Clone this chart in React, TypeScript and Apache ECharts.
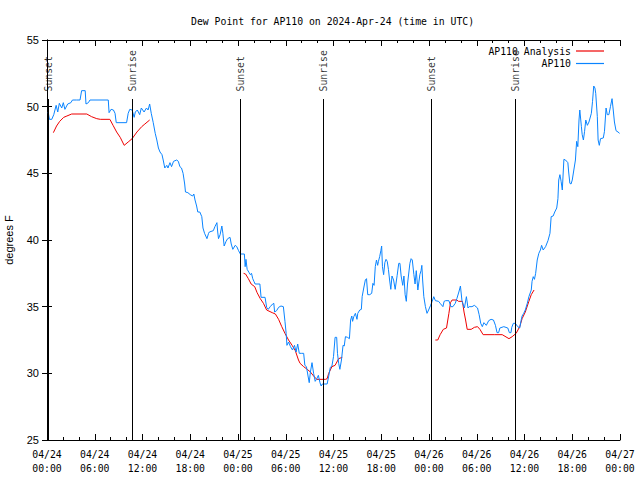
import React, { useEffect, useRef } from "react";
import * as echarts from "echarts";

// AP110 observed dew point: [hours since 2024-04-24 00:00 UTC, °F]
const ap110: [number, number][] = [
  [0.15, 49.6], [0.3, 49.05], [0.6, 49.05], [0.85, 49.4], [1.15, 50.1], [1.35, 49.6], [1.55, 50.25],
  [1.85, 49.9], [2.05, 50.3], [2.25, 49.8], [2.6, 50.2], [3.0, 50.3], [3.2, 50.5], [3.7, 50.5],
  [4.15, 50.5], [4.35, 51.2], [4.8, 51.2], [4.9, 50.2], [5.2, 50.3], [5.4, 50.5], [7.7, 50.5],
  [7.8, 49.55], [8.05, 49.8], [8.35, 49.75], [8.55, 49.5], [8.7, 48.8], [10.0, 48.8], [10.2, 49.5],
  [10.4, 49.8], [10.7, 49.75], [10.95, 49.2], [11.1, 49.6], [11.35, 49.75], [11.65, 49.4],
  [11.85, 49.9], [12.2, 49.6], [12.5, 49.9], [12.7, 49.75], [12.9, 50.2], [13.1, 49.5],
  [13.35, 48.8], [13.6, 48.0], [13.8, 47.5], [14.0, 46.9], [14.2, 46.6], [14.45, 46.4], [14.6, 46.0],
  [14.8, 45.4], [15.05, 45.6], [15.2, 45.4], [15.45, 45.8], [15.65, 45.5], [15.9, 45.9], [16.3, 46.0],
  [16.5, 45.9], [16.7, 45.5], [16.9, 45.4], [17.1, 45.0], [17.3, 44.2], [17.4, 43.6], [17.7, 43.55],
  [18.0, 43.4], [18.3, 43.3], [18.45, 43.45], [18.6, 43.0], [18.8, 42.55], [18.95, 42.1], [19.2, 42.1],
  [19.45, 41.75], [19.6, 40.9], [19.8, 40.5], [20.1, 40.1], [20.3, 40.5], [20.4, 40.6], [20.9, 40.7],
  [21.1, 41.0], [21.35, 41.3], [21.45, 40.6], [21.55, 40.1], [21.75, 40.4], [21.97, 41.05], [22.1, 40.5],
  [22.26, 39.55], [22.5, 39.9], [22.7, 40.1], [23.0, 40.2], [23.15, 39.7], [23.35, 39.3], [23.65, 39.6],
  [23.85, 39.5], [24.07, 39.2], [24.3, 38.95], [24.8, 38.95], [24.9, 38.0], [25.0, 38.55], [25.15, 37.8],
  [25.4, 37.55], [25.55, 37.4], [25.7, 37.5], [25.85, 37.1], [26.0, 36.9], [26.15, 36.7], [26.75, 36.7],
  [26.9, 35.7], [27.4, 35.7], [27.6, 34.95], [27.8, 34.8], [28.05, 35.0], [28.35, 35.2], [28.5, 35.25],
  [28.6, 34.6], [28.85, 34.7], [29.1, 34.95], [29.4, 35.05], [29.7, 35.0], [29.9, 33.9], [30.05, 33.0],
  [30.15, 32.1], [30.35, 32.35], [30.6, 32.0], [30.85, 31.75], [31.1, 32.1], [31.3, 31.6], [31.5, 32.2],
  [31.7, 31.5], [31.95, 31.5], [32.25, 31.5], [32.4, 30.6], [32.6, 30.5], [32.8, 29.8], [32.95, 29.3],
  [33.1, 30.1], [33.3, 30.8], [33.5, 30.0], [33.7, 29.4], [33.9, 29.6], [34.1, 29.85], [34.3, 29.3],
  [34.45, 29.05], [34.6, 29.2], [35.2, 29.2], [35.4, 29.8], [35.6, 30.45], [35.8, 30.55], [36.0, 31.25],
  [36.2, 32.7], [36.4, 32.7], [36.5, 31.5], [36.65, 30.75], [36.8, 30.3], [37.0, 31.0], [37.2, 32.1],
  [37.35, 32.05], [37.5, 32.75], [37.75, 32.7], [38.0, 32.6], [38.15, 34.0], [38.3, 34.3], [38.4, 33.9],
  [38.55, 34.25], [38.75, 34.5], [38.95, 34.05], [39.05, 34.5], [39.3, 34.75], [39.5, 34.8],
  [39.6, 35.75], [39.8, 36.4], [40.0, 37.0], [40.15, 37.1], [40.3, 35.9], [40.55, 35.9], [40.8, 36.0],
  [40.95, 36.75], [41.1, 36.6], [41.25, 38.0], [41.4, 38.5], [41.55, 38.1], [41.65, 38.4], [41.8, 38.75],
  [41.95, 39.2], [42.05, 39.55], [42.15, 38.0], [42.3, 37.4], [42.45, 38.3], [42.6, 38.55], [42.75, 38.4],
  [42.9, 37.8], [43.05, 37.0], [43.2, 36.3], [43.35, 37.3], [43.55, 37.0], [43.75, 36.3], [44.0, 37.35],
  [44.2, 38.25], [44.35, 38.25], [44.5, 37.3], [44.7, 36.6], [44.85, 37.3], [45.0, 35.9], [45.15, 35.4],
  [45.3, 36.7], [45.6, 38.25], [45.75, 38.6], [45.9, 38.5], [46.1, 37.4], [46.25, 36.7], [46.4, 37.7],
  [46.6, 36.25], [46.85, 37.4], [47.0, 37.7], [47.1, 38.1], [47.2, 37.0], [47.35, 35.75], [47.55, 35.0],
  [47.75, 34.5], [47.95, 34.75], [48.2, 35.1], [48.4, 35.4], [48.6, 35.75], [48.8, 35.45], [49.2, 35.4],
  [49.4, 35.25], [49.75, 35.0], [49.9, 35.4], [50.1, 35.45], [50.5, 35.45], [50.75, 35.0], [51.0, 35.0],
  [51.3, 35.25], [51.5, 35.6], [51.75, 36.1], [51.95, 36.55], [52.15, 35.4], [52.45, 34.9], [52.7, 35.75],
  [52.9, 34.9], [53.05, 35.0], [53.4, 35.0], [53.7, 35.1], [54.1, 34.9], [54.3, 34.4], [54.5, 33.75],
  [54.7, 33.5], [54.9, 33.8], [55.2, 33.6], [55.5, 33.95], [55.8, 34.05], [56.1, 34.0], [56.35, 33.6],
  [56.55, 33.05], [56.75, 33.05], [56.9, 33.4], [57.4, 33.5], [57.9, 33.4], [58.1, 33.05], [58.3, 33.05],
  [58.4, 33.45], [58.6, 33.75], [58.85, 33.75], [59.15, 33.5], [59.4, 33.4], [59.6, 34.05], [59.7, 34.3],
  [59.9, 34.5], [60.1, 34.75], [60.35, 35.25], [60.55, 35.75], [60.85, 36.25], [60.95, 36.9],
  [61.1, 37.25], [61.25, 37.05], [61.4, 37.5], [61.6, 38.5], [61.8, 39.0], [62.0, 39.25], [62.15, 39.6],
  [62.35, 39.25], [62.65, 39.5], [62.95, 39.95], [63.2, 40.5], [63.35, 41.75], [63.6, 41.8], [63.8, 42.1],
  [64.05, 42.4], [64.2, 43.1], [64.3, 44.5], [64.45, 44.9], [64.6, 44.4], [64.75, 43.75], [64.95, 46.05],
  [65.15, 46.0], [65.45, 45.8], [65.55, 45.1], [65.7, 44.25], [65.85, 44.2], [66.0, 44.5], [66.2, 45.25],
  [66.4, 46.0], [66.55, 47.4], [66.7, 47.0], [66.85, 49.0], [66.95, 49.75], [67.15, 48.5], [67.25, 47.9],
  [67.4, 47.5], [67.55, 48.15], [67.7, 49.0], [67.9, 48.6], [68.1, 48.85], [68.4, 49.5], [68.55, 50.4],
  [68.7, 51.55], [68.85, 51.4], [68.95, 51.0], [69.15, 49.25], [69.25, 47.5], [69.4, 47.1], [69.55, 47.6],
  [69.9, 47.65], [70.05, 48.15], [70.25, 49.9], [70.4, 49.4], [70.6, 49.4], [70.8, 50.0], [71.0, 50.6],
  [71.15, 49.75], [71.3, 48.85], [71.5, 48.2], [71.75, 48.1], [71.95, 48.0],
];

// AP110 Analysis, three separate runs
const analysisDay1: [number, number][] = [
  [0.8, 48.05], [1.2, 48.55], [1.6, 48.9], [2.1, 49.2], [2.5, 49.3], [3.1, 49.45], [5.0, 49.45],
  [5.6, 49.25], [6.25, 49.1], [6.7, 49.05], [7.9, 49.05], [8.3, 48.6], [8.75, 48.1], [9.2, 47.7],
  [9.7, 47.1], [10.2, 47.35], [10.7, 47.6], [11.3, 48.1], [11.9, 48.5], [12.3, 48.7], [12.9, 49.0],
];
const analysisDay2: [number, number][] = [
  [24.7, 37.5], [24.95, 37.45], [25.3, 37.1], [25.65, 36.7], [26.1, 36.5], [26.4, 36.05], [26.8, 35.6],
  [27.2, 35.25], [27.6, 34.75], [28.3, 34.55], [28.7, 34.45], [29.1, 34.05], [29.5, 33.5], [29.9, 33.0],
  [30.35, 32.5], [30.8, 32.1], [31.2, 31.7], [31.6, 31.0], [31.8, 30.75], [32.25, 30.5], [32.7, 30.3],
  [33.1, 30.1], [33.5, 29.8], [33.9, 29.55], [35.0, 29.55], [35.2, 29.6], [35.4, 30.0], [35.8, 30.5],
  [36.2, 30.6], [36.65, 31.1], [37.1, 31.2],
];
const analysisDay3: [number, number][] = [
  [48.8, 32.5], [49.1, 32.5], [49.4, 32.9], [49.8, 33.3], [50.2, 33.4], [50.5, 34.5], [50.7, 35.3],
  [50.9, 35.5], [51.5, 35.5], [51.7, 35.4], [52.2, 35.4], [52.4, 34.6], [52.6, 34.0], [52.8, 33.3],
  [53.3, 33.3], [53.7, 33.45], [54.1, 33.5], [54.4, 33.3], [54.8, 32.9], [56.2, 32.9], [57.2, 32.9],
  [58.05, 32.6], [58.45, 32.75], [58.95, 33.0], [59.4, 33.5], [59.7, 34.1], [60.1, 34.6], [60.55, 35.4],
  [60.85, 35.9], [61.2, 36.25],
];

const sunHours = [0.15, 10.73, 24.28, 34.75, 48.3, 58.9];
const sunLabels = ["Sunset", "Sunrise", "Sunset", "Sunrise", "Sunset", "Sunrise"];
const sunLineTop = 50.575;

const yTicks = [25, 30, 35, 40, 45, 50, 55];
const xDays = ["04/24", "04/25", "04/26", "04/27"];

const MONO = "'DejaVu Sans Mono', 'Liberation Mono', monospace";
const SANS = "'Liberation Sans', Arial, sans-serif";

export default function App() {
  const ref = useRef<HTMLDivElement>(null);
  useEffect(() => {
    if (!ref.current) return;
    const chart = echarts.init(ref.current, undefined, { renderer: "svg" });

    const analysisData: any[] = [
      ...analysisDay1, [18, "-"], ...analysisDay2, [42, "-"], ...analysisDay3,
    ];

    const fmtX = (v: number) => {
      const d = Math.floor(v / 24);
      const h = v - d * 24;
      return `${xDays[d]}\n${String(h).padStart(2, "0")}:00`;
    };

    const xCommon = {
      type: "value" as const,
      min: 0,
      max: 72,
      interval: 6,
      splitLine: { show: false },
      axisLine: { lineStyle: { color: "#000", width: 1 } },
      axisTick: { inside: true, length: 6, lineStyle: { color: "#000" } },
      minorTick: { show: true, splitNumber: 3, length: 3, lineStyle: { color: "#000" } },
    };
    const yCommon = {
      type: "value" as const,
      min: yTicks[0],
      max: yTicks[yTicks.length - 1],
      interval: 5,
      splitLine: { show: false },
      axisLine: { lineStyle: { color: "#000", width: 1 } },
      axisTick: { inside: true, length: 5, lineStyle: { color: "#000" } },
    };

    chart.setOption({
      animation: false,
      backgroundColor: "#fff",
      title: {
        text: "Dew Point for AP110 on 2024-Apr-24 (time in UTC)",
        left: 186,
        top: 11,
        textStyle: { fontFamily: MONO, fontSize: 9.8, fontWeight: "normal", color: "#000" },
      },
      legend: {
        orient: "vertical",
        right: 31,
        top: 40,
        align: "right",
        icon: "rect",
        itemWidth: 28,
        itemHeight: 1.2,
        itemGap: 0.5,
        data: ["AP110 Analysis", "AP110"],
        textStyle: { fontFamily: MONO, fontSize: 9.8, color: "#000", lineHeight: 12 },
      },
      grid: { left: 47, right: 20, top: 40, bottom: 40, outerBoundsMode: "none", containLabel: false },
      xAxis: [
        {
          ...xCommon,
          position: "bottom",
          axisLabel: {
            formatter: fmtX,
            fontFamily: MONO,
            fontSize: 9.8,
            lineHeight: 14,
            color: "#000",
            margin: 7,
            showMinLabel: true,
            showMaxLabel: true,
          },
        },
        { ...xCommon, position: "top", axisLabel: { show: false } },
      ],
      yAxis: [
        {
          ...yCommon,
          position: "left",
          name: "degrees F",
          nameLocation: "middle",
          nameGap: 33,
          nameRotate: 90,
          nameTextStyle: { fontFamily: SANS, fontSize: 11, color: "#000" },
          axisLabel: { fontFamily: SANS, fontSize: 11, color: "#000", margin: 8 },
        },
        { ...yCommon, position: "right", axisLabel: { show: false } },
      ],
      series: [
        {
          name: "AP110 Analysis",
          type: "line",
          data: analysisData,
          symbol: "none",
          connectNulls: false,
          color: "#ee0000",
          lineStyle: { color: "#ee0000", width: 1 },
          z: 3,
        },
        {
          name: "AP110",
          type: "line",
          data: ap110,
          symbol: "none",
          color: "#0a84ff",
          lineStyle: { color: "#0a84ff", width: 1 },
          z: 4,
        },
        {
          name: "sun",
          type: "scatter",
          data: sunHours.map((h, i) => [h, sunLineTop, sunLabels[i]]),
          symbolSize: 1,
          itemStyle: { color: "rgba(0,0,0,0)" },
          silent: true,
          z: 5,
          label: {
            show: true,
            position: "top",
            distance: 7,
            rotate: 90,
            align: "left",
            verticalAlign: "middle",
            formatter: (p: any) => p.data[2],
            fontFamily: MONO,
            fontSize: 9.8,
            color: "#000",
          },
          markLine: {
            silent: true,
            symbol: "none",
            label: { show: false },
            lineStyle: { color: "#000", width: 1, type: "solid" },
            data: sunHours.map((h) => [{ coord: [h, yTicks[0]] }, { coord: [h, sunLineTop] }]),
          },
        },
      ],
    });
    return () => chart.dispose();
  }, []);

  return (
    <div
      ref={ref}
      style={{ position: "fixed", left: 0, top: 0, width: 640, height: 480, background: "#fff" }}
    />
  );
}
